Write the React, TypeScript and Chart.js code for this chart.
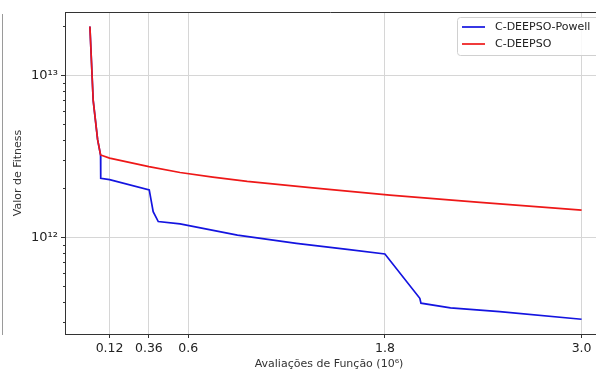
import React, { useEffect, useRef } from 'react';
import { Chart, registerables } from 'chart.js';

Chart.register(...registerables);

const FONT = '"DejaVu Sans", "Liberation Sans", sans-serif';

// C-DEEPSO (red)
const redX = [0, 0.02, 0.047, 0.065, 0.12, 0.36, 0.55, 0.75, 0.96, 1.36, 1.83, 2.38, 3.0];
const redY = [2.0e13, 7.0e12, 4.0e12, 3.22e12, 3.08e12, 2.73e12, 2.51e12, 2.35e12, 2.21e12, 2.02e12, 1.82e12, 1.64e12, 1.47e12];

// C-DEEPSO-Powell (blue)
const blueX = [0, 0.02, 0.047, 0.065, 0.066, 0.12, 0.362, 0.386, 0.417, 0.55, 0.9, 1.26, 1.57, 1.8, 2.013, 2.02, 2.2, 2.5, 3.0];
const blueY = [2.0e13, 7.0e12, 4.0e12, 3.22e12, 2.31e12, 2.27e12, 1.96e12, 1.44e12, 1.25e12, 1.21e12, 1.03e12, 9.18e11, 8.43e11, 7.89e11, 4.2e11, 3.92e11, 3.67e11, 3.48e11, 3.12e11];

const seriesNames = ['C-DEEPSO-Powell', 'C-DEEPSO'];
const seriesColors = ['#1414e0', '#ee1818'];

const xTickValues = [0.12, 0.36, 0.6, 1.8, 3.0];
const xTickLabels = ['0.12', '0.36', '0.6', '1.8', '3.0'];
const yTickValues = [1e12, 1e13];
const yTickLabels = ['10¹²', '10¹³'];
const yMinorTicks = [3e11, 4e11, 5e11, 6e11, 7e11, 8e11, 9e11, 2e12, 3e12, 4e12, 5e12, 6e12, 7e12, 8e12, 9e12, 2e13];

const xTitle = 'Avaliações de Função (10⁶)';
const yTitle = 'Valor de Fitness';

const overlay = {
  id: 'overlay',
  afterDraw(chart: any) {
    const ctx = chart.ctx;
    const a = chart.chartArea;
    const ys = chart.scales.y;
    ctx.save();
    // top spine
    ctx.strokeStyle = '#333';
    ctx.lineWidth = 1;
    ctx.beginPath();
    ctx.moveTo(a.left, Math.round(a.top) + 0.5);
    ctx.lineTo(a.right, Math.round(a.top) + 0.5);
    ctx.stroke();
    // minor y ticks
    yMinorTicks.forEach((v) => {
      const py = Math.round(ys.getPixelForValue(v)) + 0.5;
      ctx.beginPath();
      ctx.moveTo(a.left - 2, py);
      ctx.lineTo(a.left, py);
      ctx.stroke();
    });
    // left edge artifact (neighbour panel)
    ctx.strokeStyle = '#9a9a9a';
    ctx.beginPath();
    ctx.moveTo(2.5, 14);
    ctx.lineTo(2.5, 335);
    ctx.stroke();
    // titles
    ctx.fillStyle = '#333';
    ctx.font = '11px ' + FONT;
    ctx.textAlign = 'center';
    ctx.textBaseline = 'middle';
    ctx.fillText(xTitle, 329, 364);
    ctx.save();
    ctx.translate(18, 173);
    ctx.rotate(-Math.PI / 2);
    ctx.fillText(yTitle, 0, 0);
    ctx.restore();
    // legend
    const lx = 457, ly = 17, lw = 160, lh = 38;
    ctx.fillStyle = 'rgba(255,255,255,0.85)';
    ctx.strokeStyle = '#d0d0d0';
    ctx.beginPath();
    ctx.roundRect(lx + 0.5, ly + 0.5, lw, lh, 3);
    ctx.fill();
    ctx.stroke();
    seriesNames.forEach((name, i) => {
      const yy = 27 + i * 17;
      ctx.strokeStyle = seriesColors[i];
      ctx.lineWidth = 1.7;
      ctx.beginPath();
      ctx.moveTo(462, yy);
      ctx.lineTo(485, yy);
      ctx.stroke();
      ctx.fillStyle = '#222';
      ctx.textAlign = 'left';
      ctx.fillText(name, 495, yy);
    });
    ctx.restore();
  },
};

export default function App() {
  const ref = useRef<HTMLCanvasElement | null>(null);
  useEffect(() => {
    document.body.style.margin = '0';
    const canvas = ref.current;
    if (!canvas) return;
    const chart = new Chart(canvas, {
      type: 'line',
      data: {
        datasets: [
          {
            label: seriesNames[0],
            data: blueX.map((x, i) => ({ x, y: blueY[i] })),
            borderColor: seriesColors[0],
            borderWidth: 1.7,
            pointRadius: 0,
            tension: 0,
            order: 1,
          },
          {
            label: seriesNames[1],
            data: redX.map((x, i) => ({ x, y: redY[i] })),
            borderColor: seriesColors[1],
            borderWidth: 1.7,
            pointRadius: 0,
            tension: 0,
            order: 0,
          },
        ],
      },
      options: {
        animation: false,
        responsive: false,
        devicePixelRatio: 1,
        events: [],
        layout: { padding: { top: 12, left: 0, right: 0, bottom: 0 } },
        plugins: { legend: { display: false }, tooltip: { enabled: false } },
        scales: {
          x: {
            type: 'linear',
            min: -0.152,
            max: 3.088,
            afterBuildTicks: (s: any) => {
              s.ticks = xTickValues.map((v) => ({ value: v }));
            },
            afterFit: (s: any) => {
              s.height = 38;
            },
            ticks: {
              autoSkip: false,
              maxRotation: 0,
              padding: 3,
              color: '#222',
              font: { family: FONT, size: 12.5 },
              callback: (v: any) => {
                const i = xTickValues.findIndex((t) => Math.abs(t - v) < 1e-9);
                return i >= 0 ? xTickLabels[i] : '';
              },
            },
            grid: { color: '#d6d6d6', tickColor: '#333', tickLength: 4, lineWidth: 1 },
            border: { color: '#333', width: 1 },
          },
          y: {
            type: 'logarithmic',
            min: 2.53e11,
            max: 2.455e13,
            afterBuildTicks: (s: any) => {
              s.ticks = yTickValues.map((v) => ({ value: v }));
            },
            afterFit: (s: any) => {
              s.width = 65;
            },
            ticks: {
              autoSkip: false,
              padding: 3,
              color: '#222',
              font: { family: FONT, size: 13 },
              callback: (v: any) => {
                const i = yTickValues.findIndex((t) => Math.abs(t - v) / t < 1e-6);
                return i >= 0 ? yTickLabels[i] : '';
              },
            },
            grid: { color: '#d6d6d6', tickColor: '#333', tickLength: 4, lineWidth: 1 },
            border: { color: '#333', width: 1 },
          },
        },
      } as any,
      plugins: [overlay],
    });
    return () => chart.destroy();
  }, []);
  return (
    <div style={{ position: 'absolute', left: 0, top: 0, width: 596, height: 372 }}>
      <canvas ref={ref} width={596} height={372} style={{ display: 'block', width: 596, height: 372 }} />
    </div>
  );
}
